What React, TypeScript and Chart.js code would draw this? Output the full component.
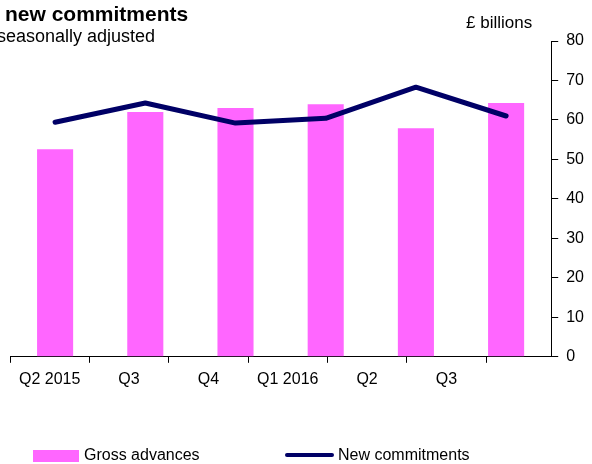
import React, { useEffect, useRef } from 'react';
import { Chart, registerables } from 'chart.js';

Chart.register(...registerables);

// ---- data ----
const categories = ['Q2 2015', 'Q3', 'Q4', 'Q1 2016', 'Q2', 'Q3'];
const grossAdvances = [52.6, 62.0, 63.0, 64.0, 57.9, 64.3];
const newCommitments = [59.4, 64.3, 59.2, 60.4, 68.3, 61.0];
const yMin = 0;
const yMax = 80;
const yStep = 10;
// label axis spans a little more than the six category label slots
const labelAxisMax = 6.82;

const PINK = '#FF66FF';
const NAVY = '#000066';
const FONT = '"Liberation Sans", Arial, Helvetica, sans-serif';

export default function App() {
  const canvasRef = useRef<HTMLCanvasElement | null>(null);

  useEffect(() => {
    const canvas = canvasRef.current;
    if (!canvas) return;
    const chart = new Chart(canvas, {
      type: 'bar',
      data: {
        labels: categories,
        datasets: [
          {
            type: 'line',
            label: 'New commitments',
            data: newCommitments,
            xAxisID: 'x',
            yAxisID: 'y',
            borderColor: NAVY,
            backgroundColor: NAVY,
            borderWidth: 5,
            pointRadius: 0,
            tension: 0,
            borderCapStyle: 'round',
            borderJoinStyle: 'round',
            order: 0,
          } as any,
          {
            type: 'bar',
            label: 'Gross advances',
            data: grossAdvances,
            xAxisID: 'x',
            yAxisID: 'y',
            backgroundColor: PINK,
            borderWidth: 0,
            barPercentage: 0.4,
            categoryPercentage: 1.0,
            order: 1,
          } as any,
        ],
      },
      options: {
        responsive: false,
        animation: false,
        maintainAspectRatio: false,
        layout: { padding: { left: 10, right: 0, top: 41, bottom: 68 } },
        plugins: {
          legend: { display: false },
          tooltip: { enabled: false },
          title: { display: false },
        },
        scales: {
          x: {
            type: 'category',
            display: false,
            offset: true,
          },
          xl: {
            type: 'linear',
            position: 'bottom',
            bounds: 'data',
            offset: false,
            min: 0,
            max: labelAxisMax,
            afterBuildTicks: (axis: any) => {
              const t: any[] = [];
              for (let i = 0; i <= categories.length; i++) {
                t.push({ value: i });
                if (i < categories.length) t.push({ value: i + 0.5 });
              }
              axis.ticks = t;
              axis.min = 0;
              axis.max = labelAxisMax;
            },
            ticks: {
              autoSkip: false,
              maxRotation: 0,
              minRotation: 0,
              padding: 7,
              color: '#000',
              font: { family: FONT, size: 16 },
              callback: (v: any) => {
                const i = Number(v) - 0.5;
                return Number.isInteger(i) ? categories[i] : '';
              },
            },
            grid: {
              display: true,
              offset: false,
              drawOnChartArea: false,
              drawTicks: true,
              tickLength: 6,
              tickWidth: 1,
              tickColor: (c: any) =>
                c.tick && Number.isInteger(c.tick.value) ? '#000' : 'rgba(0,0,0,0)',
            },
            border: { display: true, color: '#000', width: 1 },
          } as any,
          y: {
            position: 'right',
            min: yMin,
            max: yMax,
            ticks: {
              stepSize: yStep,
              padding: 8,
              color: '#000',
              font: { family: FONT, size: 16 },
            },
            grid: {
              drawOnChartArea: false,
              drawTicks: true,
              tickLength: 7,
              color: '#000',
            },
            border: { display: true, color: '#000', width: 1 },
          },
        },
      },
    });
    return () => chart.destroy();
  }, []);

  const text: React.CSSProperties = {
    position: 'absolute',
    fontFamily: FONT,
    lineHeight: 1,
    color: '#000',
    whiteSpace: 'nowrap',
    margin: 0,
  };

  return (
    <div style={{ position: 'relative', width: 592, height: 464, overflow: 'hidden', background: '#fff' }}>
      <style>{'body{margin:0;}'}</style>
      <canvas ref={canvasRef} width={592} height={464} style={{ position: 'absolute', left: 0, top: 0 }} />
      <div style={{ ...text, left: 5, top: 3, fontSize: 21, fontWeight: 'bold' }}>new commitments</div>
      <div style={{ ...text, left: -3, top: 27, fontSize: 18 }}>seasonally adjusted</div>
      <div style={{ ...text, left: 466, top: 14, fontSize: 17 }}>£ billions</div>

      {/* legend */}
      <div style={{ position: 'absolute', left: 33, top: 450, width: 46, height: 12, background: PINK }} />
      <div style={{ ...text, left: 84, top: 447, fontSize: 16 }}>Gross advances</div>
      <div style={{ position: 'absolute', left: 285, top: 453, width: 49, height: 4, borderRadius: 2, background: NAVY }} />
      <div style={{ ...text, left: 338, top: 447, fontSize: 16 }}>New commitments</div>
    </div>
  );
}
